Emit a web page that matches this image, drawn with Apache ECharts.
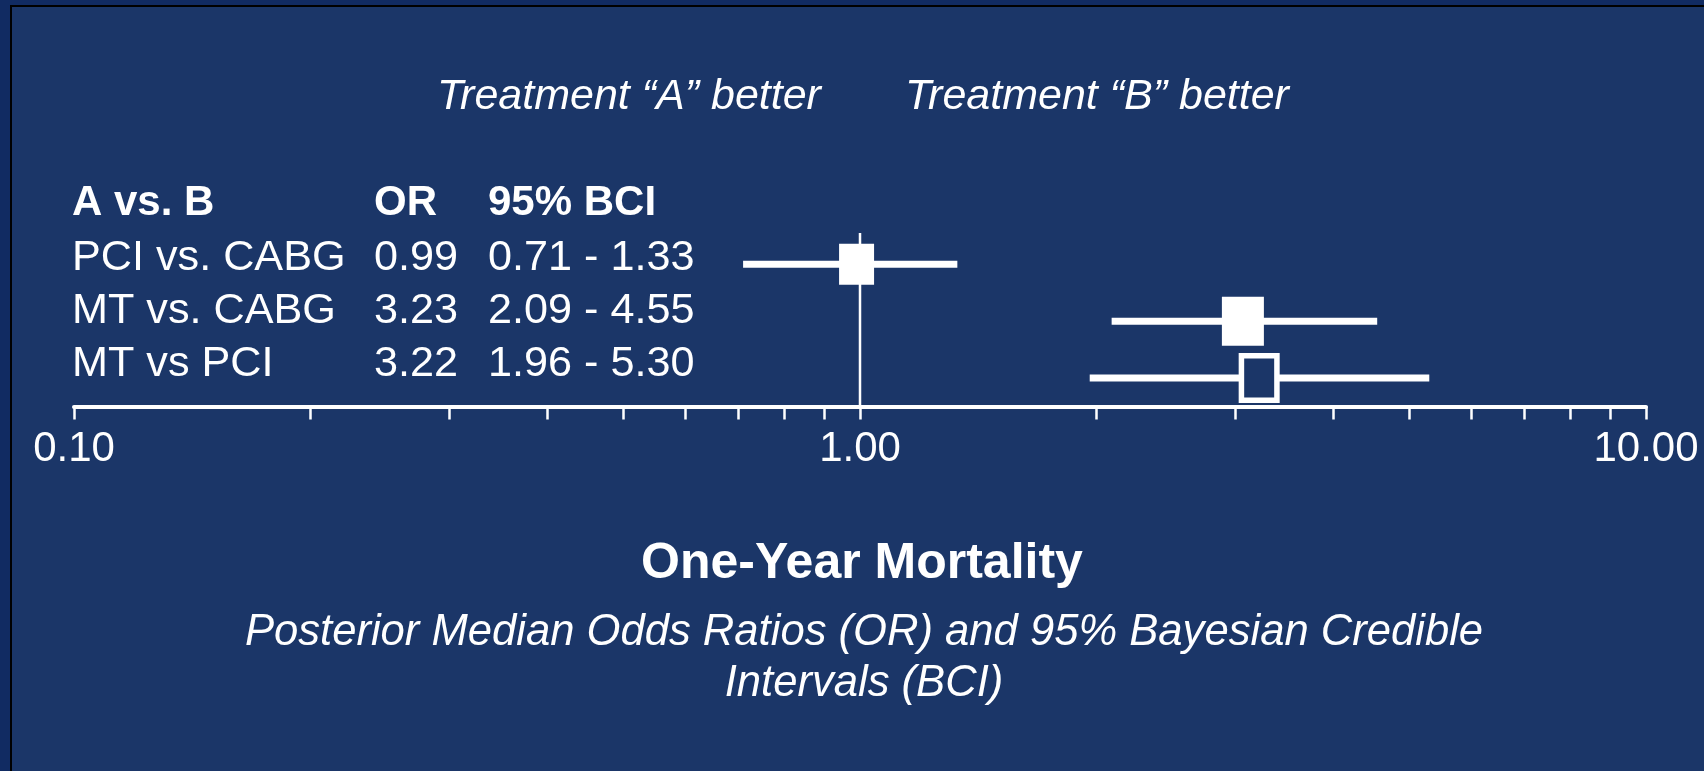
<!DOCTYPE html>
<html>
<head>
<meta charset="utf-8">
<title>One-Year Mortality</title>
<script src="https://cdn.jsdelivr.net/npm/echarts@6.0.0/dist/echarts.min.js"></script>
<style>
  html, body { margin: 0; padding: 0; background: #112b62; }
  #main { width: 1704px; height: 771px; }
</style>
</head>
<body>
<div id="main"></div>
<script>
// 数据
const comparisons = ['PCI vs. CABG', 'MT vs. CABG', 'MT vs PCI'];
const orText = ['0.99', '3.23', '3.22'];
const bciText = ['0.71 - 1.33', '2.09 - 4.55', '1.96 - 5.30'];
const pointOR = [0.99, 3.07, 3.22];   // where the boxes sit in the picture
const lowerCI = [0.71, 2.09, 1.96];
const upperCI = [1.33, 4.55, 5.30];
const hollowBox = [false, false, true];
const tickValues = [0.1, 0.2, 0.3, 0.4, 0.5, 0.6, 0.7, 0.8, 0.9, 1, 2, 3, 4, 5, 6, 7, 8, 9, 10];
const labelValues = [0.1, 1, 10];

const bg = '#1b3668';
const font = '"Liberation Sans", Arial, sans-serif';
const boxSize = [[35, 41], [42, 49], [41, 50]];

let chart = echarts.init(document.getElementById('main'));

let rows = comparisons.map((c, i) => [i + 1, lowerCI[i], upperCI[i], pointOR[i], hollowBox[i] ? 1 : 0]);

function txt(text, x, y, size, style, align) {
  return {
    type: 'text',
    x: x,
    y: y,
    z: 10,
    style: {
      text: text,
      fill: '#fff',
      font: style + ' ' + size + 'px ' + font,
      textAlign: align || 'left',
      textVerticalAlign: 'middle',
      align: align || 'left',
      verticalAlign: 'middle'
    }
  };
}

let graphics = [
  {
    type: 'rect',
    z: -1,
    shape: { x: 11, y: 6, width: 1720, height: 800 },
    style: { fill: bg, stroke: '#000', lineWidth: 2 }
  },
  txt('Treatment \u201cA\u201d better', 437, 97, 43, 'italic', 'left'),
  txt('Treatment \u201cB\u201d better', 905, 97, 43, 'italic', 'left'),
  txt('A vs. B', 72, 203, 42, 'bold', 'left'),
  txt('OR', 374, 203, 42, 'bold', 'left'),
  txt('95% BCI', 488, 203, 42, 'bold', 'left'),
  txt('One-Year Mortality', 862, 564, 50, 'bold', 'center'),
  txt('Posterior Median Odds Ratios (OR) and 95% Bayesian Credible', 864, 633, 43.6, 'italic', 'center'),
  txt('Intervals (BCI)', 864, 684, 43.6, 'italic', 'center')
];
const rowY = [258, 311, 364];
comparisons.forEach((c, i) => {
  graphics.push(txt(c, 72, rowY[i], 43.2, 'normal', 'left'));
  graphics.push(txt(orText[i], 374, rowY[i], 43.2, 'normal', 'left'));
  graphics.push(txt(bciText[i], 488, rowY[i], 43.2, 'normal', 'left'));
});

let option = {
  backgroundColor: '#112b62',
  animation: false,
  graphic: graphics,
  grid: {
    left: 74,
    right: 58,
    top: 207.5,
    bottom: 364.5
  },
  xAxis: {
    type: 'log',
    logBase: 10,
    min: 0.1,
    max: 10,
    axisLine: { onZero: false, lineStyle: { color: '#fff', width: 4 } },
    axisTick: {
      show: true,
      length: 13,
      customValues: tickValues,
      lineStyle: { color: '#fff', width: 2.5 }
    },
    axisLabel: {
      customValues: labelValues,
      color: '#fff',
      fontSize: 42,
      fontFamily: font,
      lineHeight: 42,
      margin: 22,
      formatter: v => Number(v).toFixed(2)
    },
    splitLine: { show: false },
    minorTick: { show: false }
  },
  yAxis: {
    type: 'value',
    min: 0,
    max: 3.5,
    inverse: true,
    show: false
  },
  series: [
    {
      // 参考线 OR = 1
      type: 'line',
      data: [[1, 0.45], [1, 3.5]],
      symbol: 'none',
      z: 1,
      lineStyle: { color: '#fff', width: 2.5 }
    },
    {
      type: 'custom',
      z: 3,
      data: rows,
      encode: { x: [1, 2, 3], y: 0 },
      renderItem: function (params, api) {
        let row = api.value(0);
        let a = api.coord([api.value(1), row]);
        let b = api.coord([api.value(2), row]);
        let c = api.coord([api.value(3), row]);
        let sz = boxSize[params.dataIndex];
        let w = sz[0], h = sz[1];
        let box;
        if (api.value(4)) {
          let lw = 5.5;
          box = {
            type: 'rect',
            shape: { x: c[0] - w / 2 + lw / 2, y: c[1] - h / 2 + lw / 2, width: w - lw, height: h - lw },
            style: { fill: bg, stroke: '#fff', lineWidth: lw }
          };
        } else {
          box = {
            type: 'rect',
            shape: { x: c[0] - w / 2, y: c[1] - h / 2, width: w, height: h },
            style: { fill: '#fff' }
          };
        }
        return {
          type: 'group',
          children: [
            {
              type: 'rect',
              shape: { x: a[0], y: a[1] - 3.5, width: b[0] - a[0], height: 7 },
              style: { fill: '#fff' }
            },
            box
          ]
        };
      }
    }
  ]
};

chart.setOption(option);
</script>
</body>
</html>
